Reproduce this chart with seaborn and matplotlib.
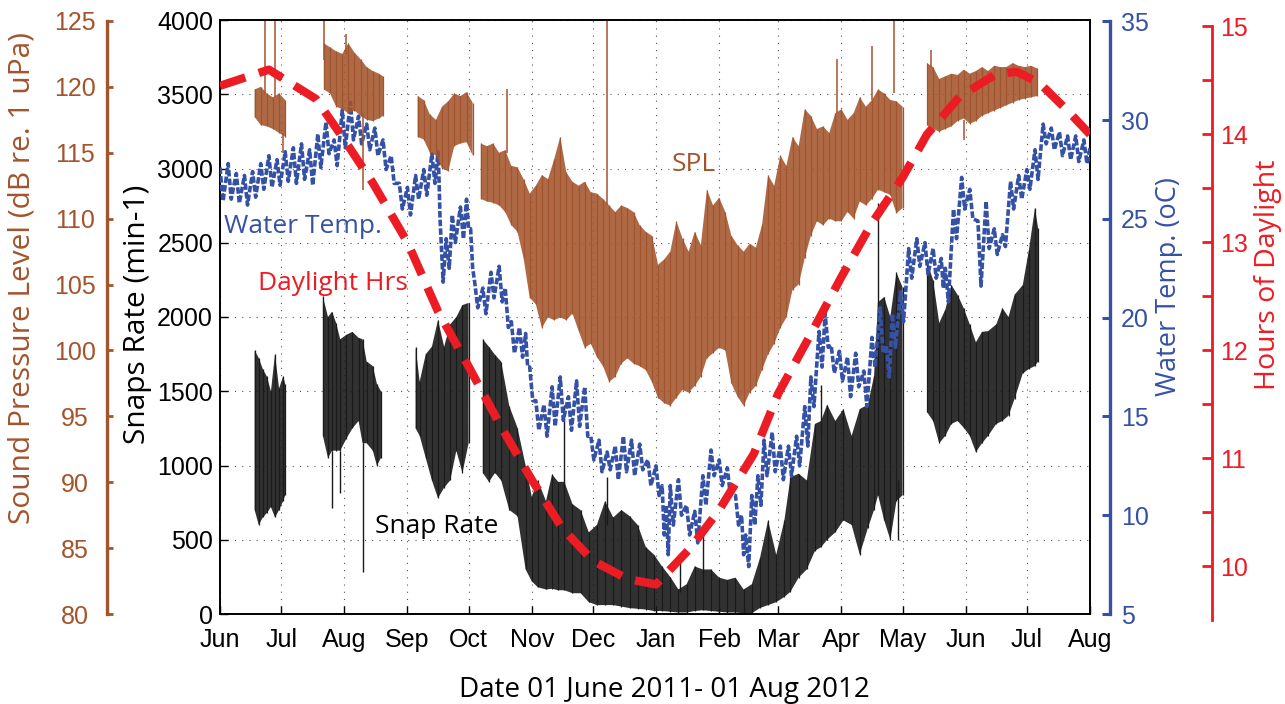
import numpy as np
import pandas as pd
import seaborn as sns
import matplotlib.pyplot as plt
import matplotlib.dates as mdates
from matplotlib.ticker import MultipleLocator

nan = np.nan

# values, day 0 = 01 June 2011
# snap rate (min-1): low / high of the noisy band, nan = no data
snap_day = [17, 19, 21, 23, 25, 27, 29, 31, 32, 41,
            50.5, 53, 55, 57, 59, 62, 65, 68, 70, 72, 75, 77, 79, 88,
            96, 98, 101, 104, 107, 110, 113, 116, 119, 122, 125,
            129, 132, 135, 138, 142, 146, 150, 153, 156, 160,
            163, 166, 169, 173, 177, 181, 185, 189, 193, 197,
            201, 205, 209, 213, 217, 221, 225, 229, 233, 237,
            241, 245, 249, 253, 257, 261, 265, 269, 273, 277,
            280, 284, 288, 292, 295, 298, 302, 306, 310, 314,
            318, 321, 323, 326, 329, 332, 335, 341,
            347, 350, 353, 356, 359, 362, 365, 368, 371, 374,
            377, 381, 384, 387, 390, 394, 397, 400, 401.5]
snap_lo = [700, 600, 650, 680, 720, 650, 700, 760, 800, nan,
           1200, 1050, 1100, 1100, 1100, 1180, 1250, 1300, 1150, 1150, 1100, 1000, 1050, nan,
           1250, 1200, 1050, 900, 780, 850, 900, 1100, 950, 1150, nan,
           950, 890, 950, 900, 700, 660, 300, 220, 180, 165,
           170, 160, 160, 140, 140, 80, 60, 60, 60, 50,
           40, 35, 30, 20, 20, 15, 10, 10, 20, 25,
           20, 15, 10, 10, 5, 5, 40, 60, 80, 115,
           150, 245, 300, 425, 450, 500, 550, 630, 600, 400,
           580, 700, 800, 630, 500, 760, 800, nan,
           1360, 1300, 1150, 1200, 1280, 1300, 1255, 1200, 1090, 1150,
           1200, 1280, 1300, 1335, 1450, 1620, 1650, 1670, 1700]
snap_hi = [1775, 1725, 1650, 1600, 1500, 1750, 1520, 1600, 1550, nan,
           2140, 2000, 2035, 1960, 1850, 1880, 1900, 1860, 1850, 1700, 1670, 1550, 1500, nan,
           1800, 1565, 1750, 1800, 1980, 1800, 1950, 2000, 2080, 2095, nan,
           1850, 1800, 1745, 1700, 1400, 1255, 1000, 790, 900, 760,
           940, 890, 890, 740, 700, 550, 600, 760, 650, 700,
           660, 600, 450, 400, 320, 250, 165, 200, 320, 300,
           300, 245, 230, 245, 165, 200, 375, 630, 400, 630,
           920, 945, 900, 1280, 1300, 1410, 1300, 1380, 1200, 1380,
           1410, 1600, 2100, 2135, 2000, 2300, 2200, nan,
           2370, 2250, 1960, 2050, 2215, 2150, 2060, 1950, 1830, 1900,
           1905, 1950, 2060, 2000, 2150, 2215, 2450, 2735, 2600]
# single spikes: day, foot, tip
snap_spike_day = [55, 59, 70, 169, 190, 226, 237, 295, 323, 333]
snap_spike_foot = [1100, 1100, 1150, 800, 600, 150, 250, 1200, 1800, 900]
snap_spike_tip = [712, 815, 285, 1410, 920, 375, 555, 1540, 2770, 500]

# sound pressure level (dB re 1 uPa)
spl_day = ([17, 20, 23, 26, 29, 32, 41,
            51, 54, 57, 60, 63, 66, 69, 72, 75, 78, 80, 88,
            97, 100, 103, 106, 109, 112, 115, 118, 121, 124, 126]
           + list(range(128, 336, 3)) + [341] + list(range(347, 402, 3)))
spl_lo = [117.7, 117.1, 117.0, 116.8, 116.5, 116.2, nan,
          119.8, 119.5, 118.5, 118.3, 118.0, 118.2, 117.8, 117.5, 117.4, 117.6, 117.8, nan,
          116.2, 116.0, 115.0, 114.8, 113.8, 113.6, 115.5, 115.7, 115.8, 114.8, nan,
          111.5, 111.3, 111.2, 111.0, 110.5, 109.5, 109.0, 107.0, 104.0, 103.5,
          101.7, 102.5, 102.3, 102.5, 102.3, 102.8, 101.5, 100.2, 100.5, 99.5,
          98.8, 97.6, 98.0, 99.0, 99.4, 99.0, 98.8, 98.5, 97.6, 96.4,
          96.0, 95.8, 96.4, 97.0, 96.8, 97.3, 98.0, 99.4, 99.8, 100.2,
          100.0, 97.5, 96.5, 95.8, 96.8, 97.3, 98.5, 99.7, 100.5, 101.7,
          102.5, 104.6, 105.0, 107.0, 108.7, 109.8, 109.5, 110.0, 109.8, 109.8,
          110.5, 110.0, 111.3, 111.0, 111.5, 112.2, 112.0, 111.8, 110.4, 110.8, nan,
          117.1, 116.8, 116.6, 116.8, 117.0, 117.4, 117.6, 117.2, 117.4, 117.8,
          118.0, 118.2, 118.4, 118.6, 118.8, 119.0, 119.1, 119.2, 119.3]
spl_hi = [119.8, 120.0, 119.5, 119.2, 119.5, 119.0, nan,
          123.3, 123.0, 122.7, 122.5, 123.3, 122.6, 122.1, 121.5, 121.2, 121.0, 120.8, nan,
          119.3, 119.0, 117.9, 117.5, 118.5, 118.9, 119.5, 119.3, 119.6, 118.8, nan,
          115.7, 115.5, 115.7, 115.0, 115.2, 114.0, 113.9, 113.0, 111.9, 112.5,
          113.3, 113.0, 114.5, 116.2, 113.5, 112.8, 112.5, 112.8, 112.0, 111.9,
          111.5, 111.0, 110.5, 111.0, 110.8, 110.5, 109.5, 109.0, 108.7, 106.5,
          106.9, 107.5, 109.8, 108.5, 107.5, 109.0, 108.0, 112.2, 111.0, 111.6,
          110.5, 108.7, 108.0, 107.5, 108.1, 107.8, 109.5, 113.3, 112.5, 114.8,
          114.0, 116.2, 115.5, 118.3, 117.8, 116.8, 117.0, 116.5, 118.0, 118.3,
          117.5, 118.0, 119.2, 118.5, 119.0, 119.8, 119.5, 119.0, 118.9, 118.5, nan,
          121.8, 121.5, 120.6, 120.8, 121.0, 120.9, 121.3, 121.0, 121.2, 121.5,
          121.2, 121.6, 121.5, 121.5, 121.8, 121.6, 121.5, 121.6, 121.4]
spl_spike_day = [22, 27, 31, 51, 62, 70, 141, 190, 303, 320, 331, 349, 365]
spl_spike_foot = [119.5, 119.2, 116.5, 122.0, 122.5, 118.0, 115.0, 111.0, 118.0, 119.0, 119.5, 121.5, 117.5]
spl_spike_tip = [125.0, 125.0, 115.0, 125.0, 124.0, 112.2, 119.8, 125.0, 122.1, 123.1, 125.0, 122.8, 116.0]

# water temperature (oC)
water_day = [0, 4, 8, 12, 16, 20, 24, 28, 32, 36,
             40, 44, 48, 52, 56, 60, 64, 68, 72, 76,
             80, 84, 88, 92, 96, 100, 104, 107, 108, 111,
             114, 118, 121, 123, 125, 129, 133, 137, 140, 143,
             147, 150, 152, 155, 159, 163, 167, 171, 175, 179,
             182, 186, 190, 194, 198, 202, 206, 210, 214, 217,
             219, 221, 225, 229, 233, 237, 241, 245, 249, 253,
             256, 258, 261, 264, 267, 271, 275, 279, 283, 287,
             290, 294, 297, 300, 304, 308, 312, 316, 320, 324,
             327, 330, 334, 338, 342, 346, 350, 354, 356, 360,
             364, 368, 372, 376, 380, 384, 388, 392, 396, 400,
             404, 408, 412, 416, 420, 424, 427]
water_lo = [25.9, 26.0, 25.8, 25.7, 26.1, 26.5, 26.6, 26.7, 26.9, 26.8,
            27.0, 26.7, 27.6, 28.3, 27.7, 28.6, 29.0, 28.8, 28.5, 28.2,
            27.5, 26.8, 25.5, 25.2, 26.0, 26.2, 26.8, 27.0, 21.8, 22.5,
            23.8, 24.0, 24.5, 22.5, 20.5, 20.2, 21.0, 20.8, 19.5, 18.2,
            18.0, 17.5, 15.8, 14.3, 14.0, 14.5, 14.8, 14.3, 14.5, 14.0,
            12.8, 12.2, 12.3, 11.8, 12.2, 12.0, 12.3, 11.5, 11.0, 9.0,
            8.0, 9.5, 10.0, 9.0, 8.6, 10.5, 12.0, 11.5, 11.0, 9.5,
            8.0, 7.4, 9.5, 10.5, 12.0, 12.2, 11.8, 12.0, 12.5, 13.5,
            15.5, 17.5, 18.5, 17.2, 16.8, 16.0, 16.5, 15.5, 17.5, 18.2,
            17.0, 18.5, 19.8, 22.0, 22.6, 22.2, 22.0, 21.5, 20.8, 24.0,
            25.5, 25.0, 21.6, 23.5, 23.2, 23.6, 25.5, 26.0, 26.5, 27.0,
            28.8, 28.5, 28.2, 28.0, 27.9, 27.8, 27.6]
water_hi = [27.6, 27.8, 27.3, 27.2, 27.4, 27.8, 28.2, 28.0, 28.4, 28.6,
            28.8, 28.5, 29.3, 29.9, 29.0, 30.5, 30.9, 30.2, 29.8, 29.6,
            29.0, 28.2, 26.8, 26.6, 27.2, 27.5, 28.3, 28.4, 25.0, 24.0,
            25.2, 25.6, 26.0, 24.5, 21.8, 21.5, 22.3, 22.6, 21.5, 19.8,
            19.5, 19.2, 17.5, 15.8, 15.6, 16.5, 17.0, 16.0, 16.8, 16.5,
            14.0, 13.8, 13.2, 13.5, 14.0, 13.8, 13.6, 12.8, 12.5, 11.5,
            10.5, 11.5, 11.8, 10.5, 10.2, 12.0, 13.3, 12.8, 12.4, 11.0,
            10.0, 9.0, 11.0, 12.0, 13.8, 14.2, 13.5, 13.5, 14.0, 15.5,
            17.0, 19.3, 20.2, 18.6, 18.3, 18.0, 18.2, 17.3, 19.0, 20.5,
            18.6, 20.2, 21.3, 23.5, 24.0, 23.8, 23.5, 23.0, 22.5, 25.5,
            27.1, 26.5, 24.9, 25.9, 24.5, 24.2, 26.9, 27.2, 27.5, 28.5,
            29.8, 29.6, 29.4, 29.2, 29.2, 29.0, 28.6]

# hours of daylight
day_day = [0, 24, 47, 61, 75, 92, 107, 122, 138, 153, 168, 183, 200, 214, 231,
           245, 262, 274, 290, 305, 320, 335, 347, 363, 381, 391, 402, 416, 427]
day_hrs = [14.45, 14.60, 14.33, 13.95, 13.55, 13.00, 12.36, 11.85, 11.29, 10.80,
           10.35, 10.05, 9.88, 9.83, 10.17, 10.52, 11.04, 11.60, 12.15, 12.68,
           13.18, 13.60, 14.00, 14.35, 14.56, 14.58, 14.48, 14.22, 14.00]

START = pd.Timestamp('2011-06-01')
END = pd.Timestamp('2012-08-01')

BROWN = '#A3542C'
BLUE = '#3451A6'
RED = '#EC1C24'
BLACK = '#1A1A1A'
LABEL_FONT = ['Open Sans', 'DejaVu Sans']


def to_dates(days):
    return START + pd.to_timedelta(np.asarray(days, float), unit='D')


def zigzag_frame(days, lo, hi):
    # high at each reading, low half way to the next one
    d = np.asarray(days, float)
    lo = np.asarray(lo, float)
    hi = np.asarray(hi, float)
    nxt = np.append(d[1:], d[-1] + 2)
    step = np.minimum((nxt - d) / 2, 1.5)
    x = np.column_stack([d, d + step]).ravel()
    y = np.column_stack([hi, lo]).ravel()
    seg = np.cumsum(np.isnan(y))
    df = pd.DataFrame({'date': to_dates(x), 'val': y, 'seg': seg})
    return df.dropna()


def draw_noisy(a, days, lo, hi, color, alpha):
    # filled band plus a vertical stroke at every reading
    dates = to_dates(days)
    a.fill_between(dates, lo, hi, color=color, alpha=alpha, lw=0)
    ok = ~np.isnan(np.asarray(lo, float))
    a.vlines(dates[ok], np.asarray(lo, float)[ok], np.asarray(hi, float)[ok],
             color=color, lw=0.9)


sns.set_style('ticks')
plt.rcParams['font.family'] = ['Liberation Sans', 'DejaVu Sans']

fig = plt.figure(figsize=(12.85, 7.04), dpi=100)
ax = fig.add_axes([220 / 1285, 90 / 704, 870 / 1285, 594 / 704])
ax_w = ax.twinx()
ax_s = ax.twinx()
ax_d = ax.twinx()

# snap rate
draw_noisy(ax, snap_day, snap_lo, snap_hi, BLACK, 0.9)
ax.vlines(to_dates(snap_spike_day), snap_spike_foot, snap_spike_tip, color=BLACK, lw=1)

# water temperature
wz = zigzag_frame(water_day, water_lo, water_hi)
sns.lineplot(data=wz, x='date', y='val', units='seg', estimator=None, sort=False,
             color=BLUE, lw=2.6, linestyle=(0, (1.8, 0.6)), ax=ax_w)

# SPL
draw_noisy(ax_s, spl_day, spl_lo, spl_hi, BROWN, 0.88)
ax_s.vlines(to_dates(spl_spike_day), spl_spike_foot, spl_spike_tip, color=BROWN, lw=1.1)

# daylight
sns.lineplot(x=to_dates(day_day), y=day_hrs, ax=ax_d, color=RED, lw=6,
             linestyle=(0, (3.2, 1.7)), dash_capstyle='butt')

# main axes: snaps + dates
ax.set_xlim(START, END)
ax.set_ylim(0, 4000)
ax.set_yticks(range(0, 4001, 500))
ax.xaxis.set_major_locator(mdates.MonthLocator())
ax.xaxis.set_major_formatter(mdates.DateFormatter('%b'))
ax.grid(True, linestyle=(0, (1, 5.5)), color='#555555', lw=0.8)
ax.tick_params(axis='both', direction='in', length=6, width=1, labelsize=18, colors='black')
ax.tick_params(axis='x', pad=10)
ax.tick_params(axis='y', pad=5)
for s in ax.spines.values():
    s.set_color('black')
    s.set_linewidth(1.4)
ax.set_xlabel('')
ax.set_ylabel('')

# SPL axis on the far left
ax_s.set_ylim(80, 125.07)
ax_s.set_yticks(range(80, 126, 5))
ax_s.yaxis.set_ticks_position('left')
for s in ['right', 'top', 'bottom']:
    ax_s.spines[s].set_visible(False)
ax_s.spines['left'].set_visible(True)
ax_s.spines['left'].set_position(('outward', 81.4))
ax_s.spines['left'].set_color(BROWN)
ax_s.spines['left'].set_linewidth(2.4)
ax_s.spines['left'].set_bounds(80, 125)
ax_s.tick_params(axis='y', direction='in', length=4, width=2, colors=BROWN, labelsize=18, pad=23)
for lab in ax_s.get_yticklabels():
    lab.set_horizontalalignment('center')
ax_s.set_ylabel('')

# water temperature axis
ax_w.set_ylim(5, 35.07)
ax_w.set_yticks(range(5, 36, 5))
for s in ['left', 'top', 'bottom']:
    ax_w.spines[s].set_visible(False)
ax_w.spines['right'].set_position(('outward', 14.4))
ax_w.spines['right'].set_color(BLUE)
ax_w.spines['right'].set_linewidth(2.4)
ax_w.spines['right'].set_bounds(5, 35)
ax_w.tick_params(axis='y', direction='in', length=6, width=2.2, colors=BLUE, labelsize=18, pad=8)
ax_w.set_ylabel('')

# daylight axis
ax_d.set_ylim(9.556, 15.06)
ax_d.set_yticks(range(10, 16))
ax_d.yaxis.set_minor_locator(MultipleLocator(0.5))
for s in ['left', 'top', 'bottom']:
    ax_d.spines[s].set_visible(False)
ax_d.spines['right'].set_position(('outward', 87.8))
ax_d.spines['right'].set_color(RED)
ax_d.spines['right'].set_linewidth(2)
ax_d.spines['right'].set_bounds(9.5, 15)
ax_d.tick_params(axis='y', which='both', direction='in', length=7, width=2, colors=RED, labelsize=18, pad=6)
ax_d.set_ylabel('')

# axis titles
ax.text(-0.2276, 0.566, 'Sound Pressure Level (dB re. 1 uPa)', transform=ax.transAxes,
        rotation=90, ha='center', va='center', color=BROWN, fontsize=21.5, family=LABEL_FONT)
ax.text(-0.0943, 0.505, 'Snaps Rate (min-1)', transform=ax.transAxes,
        rotation=90, ha='center', va='center', color='black', fontsize=21.5, family=LABEL_FONT)
ax.text(1.0908, 0.5505, 'Water Temp. (oC)', transform=ax.transAxes,
        rotation=90, ha='center', va='center', color=BLUE, fontsize=19.5, family=LABEL_FONT)
ax.text(1.2046, 0.5707, 'Hours of Daylight', transform=ax.transAxes,
        rotation=90, ha='center', va='center', color=RED, fontsize=20.5, family=LABEL_FONT)
ax.text(0.5103, -0.128, 'Date 01 June 2011- 01 Aug 2012', transform=ax.transAxes,
        ha='center', va='center', color='black', fontsize=20, family=LABEL_FONT)

# in-plot labels
ax_d.text(0.0954, 0.653, 'Water Temp.', transform=ax.transAxes, ha='center', va='center',
          color=BLUE, fontsize=19, family=LABEL_FONT)
ax_d.text(0.1299, 0.556, 'Daylight Hrs', transform=ax.transAxes, ha='center', va='center',
          color=RED, fontsize=19, family=LABEL_FONT)
ax_d.text(0.2494, 0.1465, 'Snap Rate', transform=ax.transAxes, ha='center', va='center',
          color='black', fontsize=19, family=LABEL_FONT)
ax_d.text(0.5448, 0.756, 'SPL', transform=ax.transAxes, ha='center', va='center',
          color=BROWN, fontsize=19, family=LABEL_FONT)

fig.savefig('out.png', dpi=100)
